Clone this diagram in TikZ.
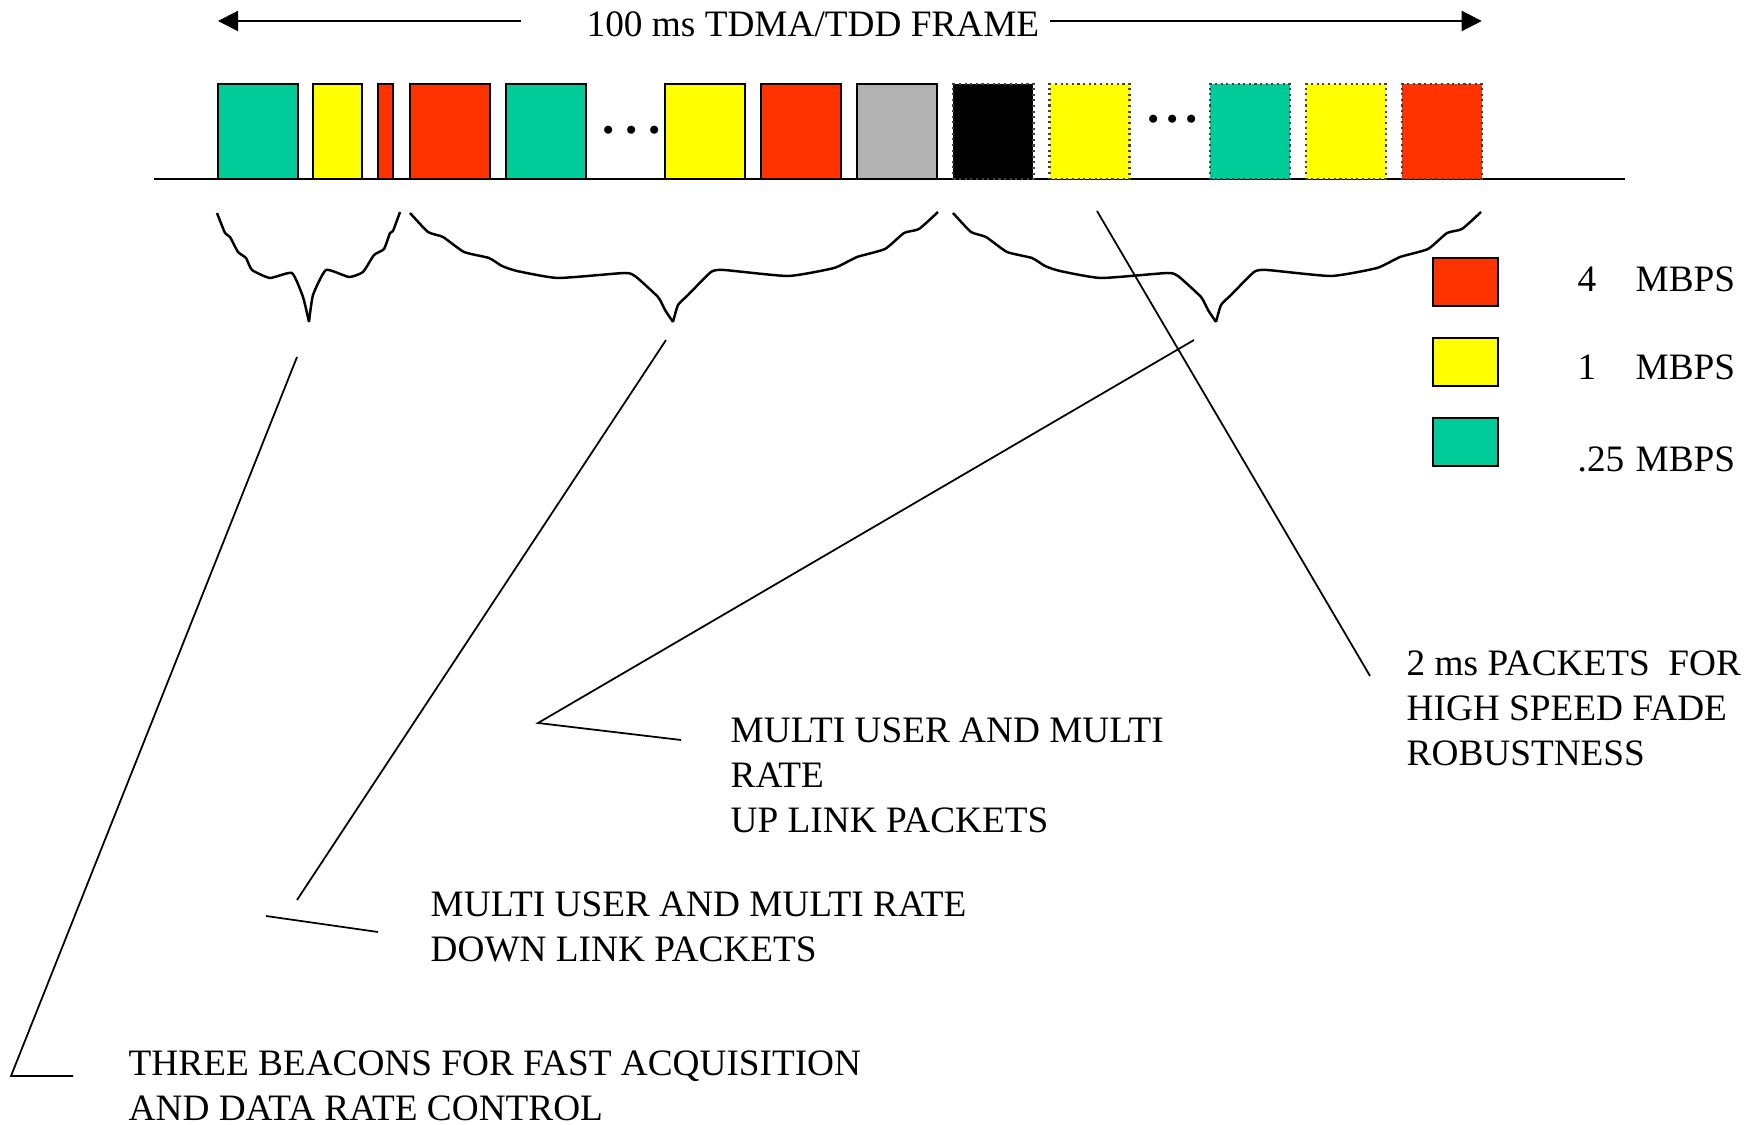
\documentclass[tikz,border=0pt]{standalone}
\usepackage{fontspec}
\setmainfont{Liberation Serif}
\usetikzlibrary{positioning,arrows.meta}

\definecolor{pktred}{RGB}{255,51,0}
\definecolor{pktyel}{RGB}{255,255,0}
\definecolor{pktgrn}{RGB}{0,204,153}
\definecolor{pktgry}{RGB}{178,178,178}

\newcommand{\rate}[1]{\makebox[0.58cm][l]{#1}MBPS}
\newcommand{\pdots}[1]{.\hspace{#1}.\hspace{#1}.}

\tikzset{
	txt/.style={font=\fontsize{10.6}{12.8}\selectfont, inner sep=0pt},
	note/.style={txt, align=left, anchor=north west},
	pkt/.style={draw=black, line width=0.6pt, minimum width=0.8cm, minimum height=0.95cm, inner sep=0pt, outer sep=0pt, anchor=south west},
	ulpkt/.style={pkt, draw=black!75, densely dotted},
	key/.style={draw=black, line width=0.6pt, minimum width=0.65cm, minimum height=0.48cm, inner sep=0pt, outer sep=0pt},
	gap/.style={font=\bfseries\fontsize{14}{14}\selectfont, inner sep=0pt},
	frm/.style={line width=0.6pt, -{Triangle[length=0.2cm, width=0.2cm]}},
	brace/.style={line width=0.7pt, line join=round},
	ptr/.style={line width=0.5pt},
	wave/.pic={
		\draw[brace] plot[smooth, tension=0.3] coordinates {(0,0) (18,19) (33,24) (54,39) (79,45) (92,53) (107,58) (148,65) (214,60) (225,63) (248,84) (255,97) (263,109)}
			plot[smooth, tension=0.3] coordinates {(263,109) (268,92) (278,82) (301,59) (314,57) (378,63) (424,55) (447,44) (475,36) (494,20) (509,16) (528,-1)};
	}
}

\begin{document}
\begin{tikzpicture}[x=0.01cm, y=-0.01cm]
	\useasboundingbox (0,0) rectangle (1758,1125);

	% time line
	\coordinate (b0) at (154,179);
	\coordinate (b1) at (1625,179);
	\draw[line width=0.6pt] (b0) -- (b1);

	% frame slots
	\node[pkt, fill=pktgrn] (f1) at (218,179) {};
	\node[pkt, fill=pktyel, minimum width=0.49cm, right=0.15cm of f1] (f2) {};
	\node[pkt, fill=pktred, minimum width=0.15cm, right=0.16cm of f2] (f3) {};
	\node[pkt, fill=pktred, right=0.17cm of f3] (f4) {};
	\node[pkt, fill=pktgrn, right=0.16cm of f4] (f5) {};
	\node[pkt, fill=pktyel, right=0.79cm of f5] (f6) {};
	\node[pkt, fill=pktred, right=0.16cm of f6] (f7) {};
	\node[pkt, fill=pktgry, right=0.16cm of f7] (f8) {};
	\node[ulpkt, fill=black, right=0.16cm of f8] (f9) {};
	\node[ulpkt, fill=pktyel, right=0.16cm of f9] (f10) {};
	\node[ulpkt, fill=pktgrn, right=0.8cm of f10] (f11) {};
	\node[ulpkt, fill=pktyel, right=0.16cm of f11] (f12) {};
	\node[ulpkt, fill=pktred, right=0.16cm of f12] (f13) {};

	\node[gap] (e1) at (632,130) {\pdots{0.107cm}};
	\node[gap] (e2) at (1173,119) {\pdots{0.067cm}};

	% frame length
	\node[txt, anchor=base west] (ttl) at (586,37) {100 ms TDMA/TDD FRAME};
	\coordinate (tl) at (521,21);
	\coordinate (tr) at (1050,21);
	\draw[frm] (tl) -- (f1.west |- tl);
	\draw[frm] (tr) -- (f13.east |- tr);

	% braces
	\draw[brace] plot[smooth, tension=0.3] coordinates {(217,213) (225,233) (230,237) (238,252) (246,258) (252,270) (270,278) (292,273) (303,297) (309,322)}
		plot[smooth, tension=0.3] coordinates {(309,322) (313,295) (326,270) (349,277) (363,272) (374,255) (384,249) (390,233) (393,231) (400,212)};
	\pic at (410,213) {wave};
	\pic at (953,213) {wave};

	% legend
	\node[key, fill=pktred] (k4) at (1465.5,282) {};
	\node[key, fill=pktyel, below=0.32cm of k4] (k1) {};
	\node[key, fill=pktgrn, below=0.32cm of k1] (k25) {};
	\node[txt, anchor=base west] (r4) at (1577,292) {\rate{4}};
	\node[txt, anchor=base west] (r1) at (1577,380) {\rate{1}};
	\node[txt, anchor=base west] (r25) at (1577,472) {\rate{.25}};

	% notes
	\node[note] (fd) at (1406,650) {2 ms PACKETS\ \ FOR\\HIGH SPEED FADE\\ROBUSTNESS};
	\node[note] (ul) at (730,717) {MULTI USER AND MULTI\\RATE\\UP LINK PACKETS};
	\node[note] (dl) at (430,891) {MULTI USER AND MULTI RATE\\DOWN LINK PACKETS};
	\node[note] (bc) at (128,1050) {THREE BEACONS FOR FAST ACQUISITION\\AND DATA RATE CONTROL};

	\coordinate (a0) at (297,357);
	\coordinate (a1) at (11,1076);
	\coordinate (a2) at (73,1076);
	\draw[ptr] (a0) -- (a1) -- (a2);

	\coordinate (c0) at (666,340);
	\coordinate (c1) at (297,900);
	\coordinate (c2) at (266,916);
	\coordinate (c3) at (378,932);
	\draw[ptr] (c0) -- (c1);
	\draw[ptr] (c2) -- (c3);

	\coordinate (u0) at (1194,340);
	\coordinate (u1) at (538,723);
	\coordinate (u2) at (681,740);
	\draw[ptr] (u0) -- (u1) -- (u2);

	\coordinate (d0) at (1097,211);
	\coordinate (d1) at (1370,676);
	\draw[ptr] (d0) -- (d1);
\end{tikzpicture}
\end{document}
